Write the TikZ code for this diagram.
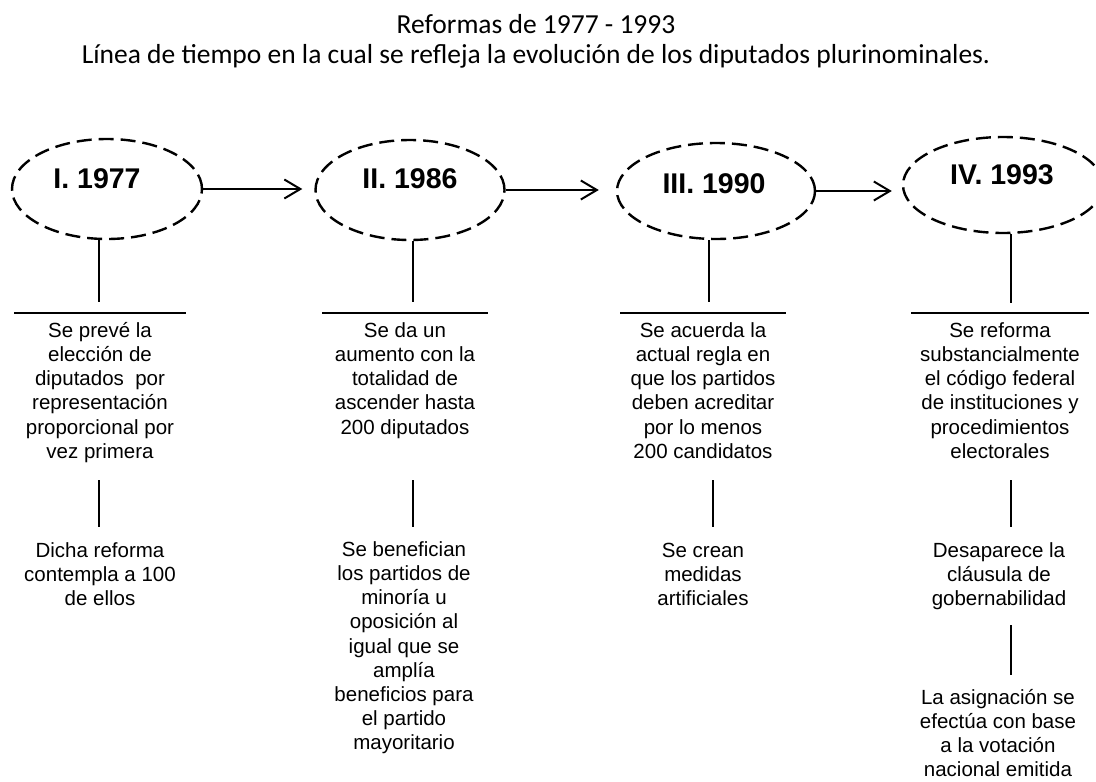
\documentclass[tikz,border=0pt]{standalone}
\usepackage{fontspec}
\setmainfont{Liberation Sans}
\newfontfamily\titlefont{Carlito}
\usetikzlibrary{arrows.meta, positioning, shapes.geometric}

\tikzset{
  yearbox/.style={ellipse, draw, line width=2.4pt, dash pattern=on 15pt off 7pt,
    minimum width=192pt, minimum height=98pt, inner sep=0pt},
  yeartext/.style={anchor=base, inner sep=0pt, font=\fontsize{28.5}{30}\selectfont\bfseries},
  desc/.style={anchor=north, align=center, inner sep=0pt, font=\fontsize{20.5}{24.2}\selectfont},
  titletext/.style={anchor=base, inner sep=0pt, font=\titlefont\fontsize{27.5}{30}\selectfont},
  flow/.style={-{Straight Barb[length=16pt,width=19pt]}, line width=2pt},
  stem/.style={line width=2pt},
}
\newcommand{\fl}{\rule{0pt}{20pt}}

\begin{document}
\begin{tikzpicture}[x=1pt, y=-1pt]
  \useasboundingbox (0,0) rectangle (1096,782);

  % Titulo
  \node[titletext] (titulo) at (536,33) {Reformas de 1977 - 1993};
  \node[titletext] (subtitulo) at (536,63) {Línea de tiempo en la cual se refleja la evolución de los diputados plurinominales.};

  % Reformas
  \node[yearbox, minimum width=190pt, minimum height=100pt] (e1) at (107,189) {};
  \node[yearbox, minimum width=189pt, minimum height=100pt] (e2) at (410,190) {};
  \node[yearbox, minimum width=198pt, minimum height=96pt] (e3) at (716,191) {};
  \node[yearbox, minimum width=200pt, minimum height=96pt] (e4) at (1003,185) {};
  \node[yeartext] (t1) at (97,188) {I. 1977};
  \node[yeartext] (t2) at (410,188) {II. 1986};
  \node[yeartext] (t3) at (714,193) {III. 1990};
  \node[yeartext] (t4) at (1002,184) {IV. 1993};

  % Flechas
  \draw[flow, shorten >=12pt] (e1.east) -- (e1.east -| e2.west);
  \draw[flow, shorten >=17pt] (e2.east) -- (e2.east -| e3.west);
  \draw[flow, shorten >=10pt] (e3.east) -- (e3.east -| e4.west);

  % Lineas bajo cada reforma
  \coordinate (k1) at (99,302);
  \coordinate (k2) at (413,302);
  \coordinate (k3) at (709,302);
  \coordinate (k4) at (1011,303);
  \draw[stem] (k1 |- e1.south) -- (k1);
  \draw[stem] (k2 |- e2.south) -- (k2);
  \draw[stem] (k3 |- e3.south) -- (k3);
  \draw[stem] (k4 |- e4.south) -- (k4);

  \coordinate (r1w) at (14,313);  \coordinate (r1e) at (186,313);
  \coordinate (r2w) at (322,313); \coordinate (r2e) at (488,313);
  \coordinate (r3w) at (620,313); \coordinate (r3e) at (786,313);
  \coordinate (r4w) at (911,313); \coordinate (r4e) at (1089,313);
  \draw[stem] (r1w) -- (r1e);
  \draw[stem] (r2w) -- (r2e);
  \draw[stem] (r3w) -- (r3e);
  \draw[stem] (r4w) -- (r4e);

  % Primer texto
  \node[desc] (a1) at (100,317) {\fl Se prevé la\\elección de\\diputados\ \ por\\representación\\proporcional por\\vez primera};
  \node[desc] (a2) at (405,317) {\fl Se da un\\aumento con la\\totalidad de\\ascender hasta\\200 diputados};
  \node[desc] (a3) at (703,317) {\fl Se acuerda la\\actual regla en\\que los partidos\\deben acreditar\\por lo menos\\200 candidatos};
  \node[desc] (a4) at (1000,317) {\fl Se reforma\\substancialmente\\el código federal\\de instituciones y\\procedimientos\\electorales};

  % Lineas intermedias
  \coordinate (m1) at (99,480);   \coordinate (n1) at (99,527);
  \coordinate (m2) at (413,480);  \coordinate (n2) at (413,527);
  \coordinate (m3) at (713,480);  \coordinate (n3) at (713,527);
  \coordinate (m4) at (1011,480); \coordinate (n4) at (1011,527);
  \draw[stem] (m1) -- (n1);
  \draw[stem] (m2) -- (n2);
  \draw[stem] (m3) -- (n3);
  \draw[stem] (m4) -- (n4);

  % Segundo texto
  \node[desc] (b1) at (100,537) {\fl Dicha reforma\\contempla a 100\\de ellos};
  \node[desc] (b2) at (404,536) {\fl Se benefician\\los partidos de\\minoría u\\oposición al\\igual que se\\amplía\\beneficios para\\el partido\\mayoritario};
  \node[desc] (b3) at (703,537) {\fl Se crean\\medidas\\artificiales};
  \node[desc] (b4) at (999,537) {\fl Desaparece la\\cláusula de\\gobernabilidad};

  % Tercer texto
  \coordinate (p4) at (1011,625); \coordinate (q4) at (1011,675);
  \draw[stem] (p4) -- (q4);
  \node[desc] (c4) at (998,684) {\fl La asignación se\\efectúa con base\\a la votación\\nacional emitida};
\end{tikzpicture}
\end{document}
